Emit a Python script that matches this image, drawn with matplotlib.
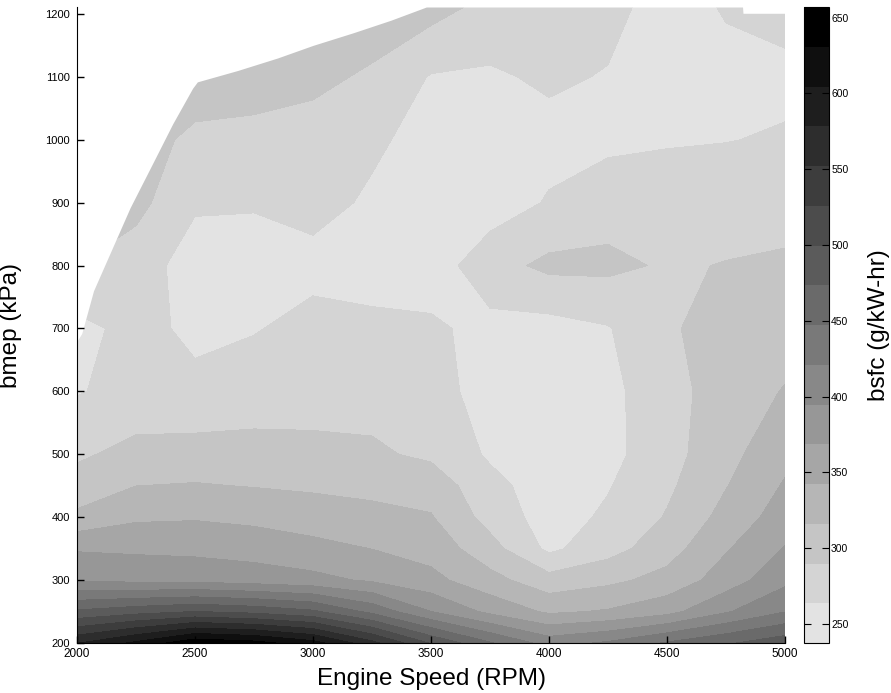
import matplotlib
matplotlib.use("Agg")
import matplotlib.pyplot as plt
from matplotlib.colors import ListedColormap, BoundaryNorm
import numpy as np

plt.rcParams['font.family'] = ['Liberation Sans', 'DejaVu Sans']

# engine map data
speed = [2000, 2250, 2500, 2750, 3000, 3250, 3500, 3750, 4000, 4250, 4500, 4750, 5000]
bmep = [200, 250, 300, 350, 400, 450, 500, 600, 700, 800, 900, 1000, 1100, 1211]
bsfc = [
    [577, 610, 650, 640, 615, 560, 497, 450, 410, 425, 450, 470, 490],
    [478, 490, 500, 492, 478, 440, 395, 362, 338, 345, 360, 392, 420],
    [392, 388, 387, 382, 376, 365, 350, 325, 300, 310, 325, 355, 388],
    [366, 364, 362, 358, 350, 342, 332, 300, 258, 280, 305, 340, 370],
    [322, 338, 340, 336, 330, 325, 318, 280, 252, 268, 292, 325, 355],
    [300, 316, 318, 315, 312, 308, 305, 272, 250, 262, 285, 315, 345],
    [286, 298, 300, 298, 296, 294, 285, 260, 250, 256, 280, 308, 335],
    [262, 272, 270, 278, 280, 280, 272, 255, 252, 256, 282, 300, 318],
    [256, 272, 258, 262, 272, 270, 268, 256, 254, 262, 288, 296, 302],
    [290, 276, 252, 252, 256, 252, 250, 280, 296, 296, 287, 291, 293],
    [305, 298, 267, 266, 272, 260, 250, 250, 266, 278, 274, 278, 282],
    [312, 305, 282, 280, 276, 268, 255, 252, 255, 258, 262, 263, 266],
    [318, 315, 310, 305, 298, 285, 262, 260, 268, 262, 255, 256, 258],
    [320, 320, 320, 318, 315, 310, 300, 282, 280, 272, 252, 266, 272],
]

# full-load (max bmep) limit, everything above is blank
wot_speed = [2000, 2020, 2070, 2225, 2320, 2405, 2490, 2510, 2680, 2850, 3000,
             3170, 3330, 3480, 4820, 4822, 5000]
wot_bmep = [680, 692, 760, 892, 962, 1025, 1082, 1092, 1110, 1130, 1150,
            1170, 1190, 1211, 1211, 1201, 1201]

cbar_ticks = [250, 300, 350, 400, 450, 500, 550, 600, 650]

levels = np.linspace(237.5, 657, 17)
grays = np.linspace(0.89, 0.0, 16)
cmap = ListedColormap([(g, g, g) for g in grays])
norm = BoundaryNorm(levels, cmap.N)

fig = plt.figure(figsize=(8.91, 6.93), dpi=100)
ax = fig.add_axes([77 / 891, 50 / 693, 708 / 891, 636 / 693])

cs = ax.contourf(speed, bmep, bsfc, levels=levels, cmap=cmap, norm=norm)
ax.fill_between(wot_speed, wot_bmep, 1300, color='white', lw=0)

ax.set_xlim(2000, 5000)
ax.set_ylim(200, 1211)
ax.set_xticks(range(2000, 5001, 500))
ax.set_yticks(range(200, 1201, 100))
ax.spines['top'].set_visible(False)
ax.spines['right'].set_visible(False)
ax.tick_params(direction='in', length=5, width=1)
ax.tick_params(axis='x', pad=3.5, labelsize=8.5)
ax.tick_params(axis='y', pad=5, labelsize=8)

ax.set_xlabel('Engine Speed (RPM)', fontsize=17.5)
ax.xaxis.set_label_coords(0.5, -0.039)
ax.set_ylabel('bmep (kPa)', fontsize=17.5)
ax.yaxis.set_label_coords(-0.078, 0.5)

cax = fig.add_axes([804 / 891, 50 / 693, 25 / 891, 636 / 693])
cb = fig.colorbar(cs, cax=cax, ticks=cbar_ticks)
cb.minorticks_off()
cb.ax.set_ylim(237.5, 657)
cax.tick_params(direction='in', left=True, right=True, length=5,
                labelsize=7.5, pad=1.5)
cb.set_label('bsfc (g/kW-hr)', fontsize=17.5)
cax.yaxis.set_label_coords(2.55, 0.5)

fig.savefig('out.png', dpi=100)
